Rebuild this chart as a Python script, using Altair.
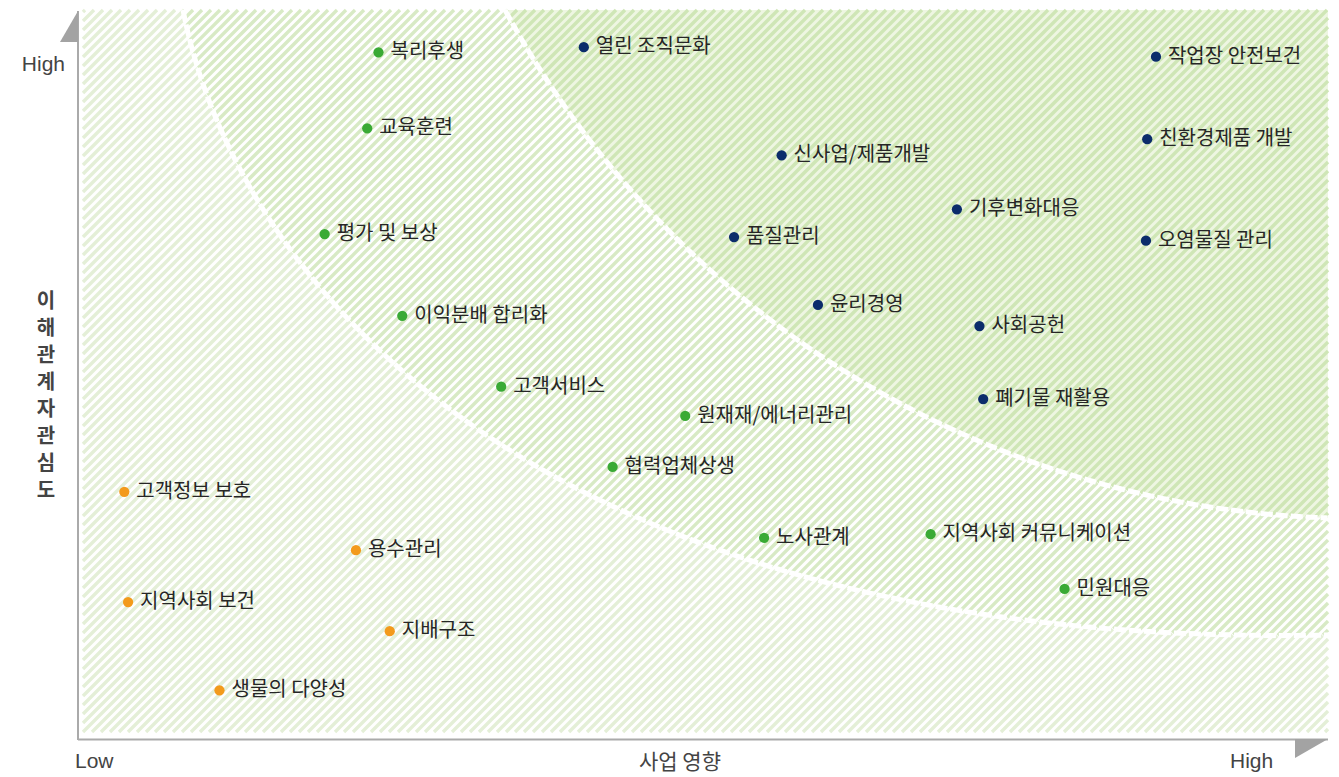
import numpy as np
import pandas as pd
import altair as alt

# ---------------- data (0-100 scale on both axes) ----------------
navy_labels = ["열린 조직문화", "작업장 안전보건", "신사업/제품개발", "친환경제품 개발", "기후변화대응",
               "품질관리", "오염물질 관리", "윤리경영", "사회공헌", "폐기물 재활용"]
navy_x = [40.4, 86.1, 56.2, 85.4, 70.2, 52.4, 85.3, 59.1, 72.0, 72.3]
navy_y = [94.9, 93.6, 80.1, 82.3, 72.7, 68.9, 68.4, 59.6, 56.7, 46.7]

green_labels = ["복리후생", "교육훈련", "평가 및 보상", "이익분배 합리화", "고객서비스",
                "원재재/에너리관리", "협력업체상생", "노사관계", "지역사회 커뮤니케이션", "민원대응"]
green_x = [24.0, 23.1, 19.7, 25.9, 33.8, 48.5, 42.7, 54.8, 68.1, 78.8]
green_y = [94.2, 83.8, 69.3, 58.1, 48.4, 44.4, 37.4, 27.7, 28.2, 20.7]

orange_labels = ["고객정보 보호", "용수관리", "지역사회 보건", "지배구조", "생물의 다양성"]
orange_x = [3.7, 22.2, 4.0, 24.9, 11.3]
orange_y = [34.0, 26.0, 18.9, 14.9, 6.8]

groups = ["high", "mid", "low"]
group_colors = ["#0b2c6b", "#3aaa35", "#f39a1c"]

x_title = "사업 영향"
y_title = "이해관계자 관심도"
low_label = "Low"
high_label = "High"

# ---------------- layout helpers ----------------
W, H = 1252, 730
SX, SY = W / 100.0, H / 100.0
FONT = "Noto Sans CJK KR"


def dx(px):
    return px / SX


def dy(py):
    return (H - py) / SY


# hatched box (plot-relative pixels)
BX0, BX1, BY0, BY1 = 5.0, 1250.0, 0.0, 722.0
GRID = np.arange(0.0, 1252.0, 0.5)

# inner boundary: circle arc (plot-relative pixels)
ICX, ICY, IR = 1280.5, -462.2, 970.6
ixt = ICX - np.sqrt(IR ** 2 - (BY0 - ICY) ** 2)
inner_y = np.where(GRID >= ixt, ICY + np.sqrt(np.maximum(IR ** 2 - (GRID - ICX) ** 2, 0)), -1e9)

# outer boundary: cubic Bezier (plot-relative pixels)
OP = np.array([[105.0, 0.0], [162.0, 290.0], [482.0, 640.0], [1252.0, 625.0]])
t = np.linspace(0, 1, 2001)[:, None]
bez = ((1 - t) ** 3) * OP[0] + 3 * ((1 - t) ** 2) * t * OP[1] + 3 * (1 - t) * (t ** 2) * OP[2] + (t ** 3) * OP[3]
outer_y = np.interp(GRID, bez[:, 0], bez[:, 1], left=-1e9, right=bez[-1, 1])


def zone(x, y):
    yi = np.interp(x, GRID, inner_y)
    yo = np.interp(x, GRID, outer_y)
    return np.where(y < yi, 3, np.where(y < yo, 2, 1))


# stripes
P = 9.0
segs = []
for c in np.arange(BX0 + BY0 + 2, BX1 + BY1, P):
    xs0 = max(BX0, c - BY1)
    xs1 = min(BX1, c - BY0)
    if xs1 - xs0 < 1:
        continue
    xs = np.linspace(xs0, xs1, int((xs1 - xs0) / 0.5) + 2)
    ys = c - xs
    zs = zone(xs, ys)
    start = 0
    for i in range(1, len(xs) + 1):
        if i == len(xs) or zs[i] != zs[start]:
            segs.append((dx(xs[start]), dy(ys[start]), dx(xs[i - 1]), dy(ys[i - 1]), int(zs[start])))
            start = i
stripes = pd.DataFrame(segs, columns=["x", "y", "x2", "y2", "z"])

arc_rows = []
sel = (GRID >= ixt) & (GRID <= BX1)
for i, (a, b) in enumerate(zip(GRID[sel][::4], inner_y[sel][::4])):
    arc_rows.append({"arc": "inner", "i": i, "x": dx(a), "y": dy(b)})
arc_rows.insert(0, {"arc": "inner", "i": -1, "x": dx(ixt), "y": dy(BY0)})
for i, (a, b) in enumerate(bez[::10]):
    arc_rows.append({"arc": "outer", "i": i, "x": dx(a), "y": dy(b)})
arcs = pd.DataFrame(arc_rows)

zone3_bg = pd.DataFrame({"x": dx(np.concatenate([[ixt], GRID[sel]])),
                         "y": dy(np.concatenate([[BY0], inner_y[sel]])), "y2": dy(BY0)})

# arrow triangles
tri_up = pd.DataFrame({"x": [dx(-18), dx(0)], "y": [dy(32), dy(1)], "y2": [dy(32), dy(32)]})
tri_right = pd.DataFrame({"x": [dx(1217), dx(1250)], "y": [dy(729), dy(729)], "y2": [dy(748), dy(729)]})

pts = pd.DataFrame({
    "label": navy_labels + green_labels + orange_labels,
    "x": navy_x + green_x + orange_x,
    "y": navy_y + green_y + orange_y,
    "g": [groups[0]] * len(navy_labels) + [groups[1]] * len(green_labels) + [groups[2]] * len(orange_labels),
})

xs_ = alt.Scale(domain=[0, 100], nice=False, zero=False)
ys_ = alt.Scale(domain=[0, 100], nice=False, zero=False)


def X(f="x"):
    return alt.X(f"{f}:Q", scale=xs_, axis=None)


def Y(f="y"):
    return alt.Y(f"{f}:Q", scale=ys_, axis=None)


bg3 = alt.Chart(zone3_bg).mark_area(color="#eef6e2", opacity=1).encode(
    x=X(), y=Y(), y2="y2:Q")

stripe_layer = alt.Chart(stripes).mark_rule(strokeWidth=3.4, strokeCap="butt").encode(
    x=X(), y=Y(), x2="x2:Q", y2="y2:Q",
    color=alt.Color("z:N", scale=alt.Scale(domain=[1, 2, 3], range=["#e4efd7", "#d8eac5", "#cfe6b6"]), legend=None),
)

arc_layer = alt.Chart(arcs).mark_line(color="white", strokeWidth=5, strokeDash=[12, 3]).encode(
    x=X(), y=Y(), detail="arc:N", order="i:Q")

dummy = pd.DataFrame({"a": [0]})
axis_color = "#aaaaaa"
left_axis = alt.Chart(dummy).mark_rule(color=axis_color, strokeWidth=2).encode(
    x=alt.value(0), y=alt.value(1), y2=alt.value(730))
bottom_axis = alt.Chart(dummy).mark_rule(color=axis_color, strokeWidth=2).encode(
    x=alt.value(0), x2=alt.value(1250), y=alt.value(729.5))

tri1 = alt.Chart(tri_up).mark_area(color="#a3a3a3").encode(x=X(), y=Y(), y2="y2:Q")
tri2 = alt.Chart(tri_right).mark_area(color="#a3a3a3").encode(x=X(), y=Y(), y2="y2:Q")

points = alt.Chart(pts).mark_circle(size=105, opacity=1).encode(
    x=X(), y=Y(),
    color=alt.Color("g:N", scale=alt.Scale(domain=groups, range=group_colors), legend=None),
)
labels = alt.Chart(pts).mark_text(align="left", baseline="middle", dx=12, fontSize=20, font=FONT,
                                  color="#262626").encode(x=X(), y=Y(), text="label:N")


def txt(t, x, y, align="left", size=19, weight="normal", font=FONT, **kw):
    return alt.Chart(dummy).mark_text(align=align, baseline="middle", fontSize=size, font=font,
                                      fontWeight=weight, color="#444444", **kw).encode(
        x=alt.value(x), y=alt.value(y), text=alt.value(t))


t_high_y = txt(high_label, -13, 55, align="right", size=21, font="Liberation Sans")
t_low = txt(low_label, -3, 752, align="left", size=21, font="Liberation Sans")
t_high_x = txt(high_label, 1152, 752, align="left", size=21, font="Liberation Sans")
t_xtitle = txt(x_title, 602, 753, align="center", size=21)
t_ytitle = txt("\n".join(list(y_title.replace(" ", ""))), -32, 292, align="center", size=20,
               weight="bold", lineBreak="\n", lineHeight=27)

chart = alt.layer(
    bg3, stripe_layer, arc_layer, left_axis, bottom_axis, tri1, tri2, points, labels,
    t_high_y, t_low, t_high_x, t_xtitle, t_ytitle,
).resolve_scale(color="independent").properties(
    width=W, height=H,
    autosize=alt.AutoSizeParams(type="none"),
    padding={"left": 70, "top": 2, "right": 1, "bottom": 37},
).configure_view(stroke=None)

chart.save("out.html", embed_options={"renderer": "svg", "actions": False})
